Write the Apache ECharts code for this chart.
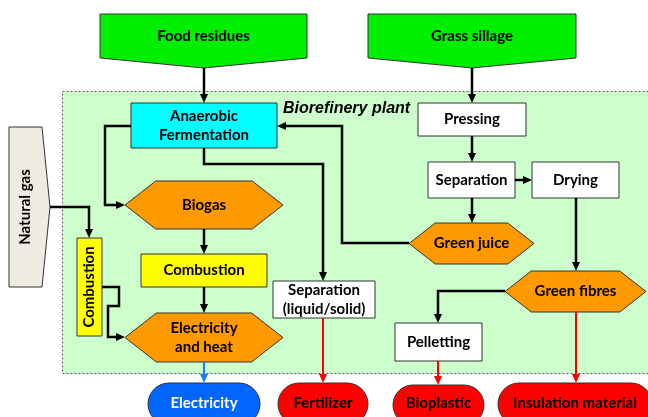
<!DOCTYPE html>
<html>
<head>
<meta charset="utf-8">
<script src="https://cdn.jsdelivr.net/npm/echarts@6/dist/echarts.min.js"></script>
<style>
  html, body { margin: 0; padding: 0; background: #fff; }
  #chart { width: 648px; height: 417px; }
</style>
</head>
<body>
<div id="chart"></div>
<script>
var labels = ['Food residues', 'Grass sillage', 'Natural gas', 'Anaerobic\nFermentation', 'Pressing',
  'Separation', 'Drying', 'Biogas', 'Green juice', 'Combustion', 'Combustion',
  'Separation\n(liquid/solid)', 'Green fibres', 'Electricity\nand heat', 'Pelletting',
  'Electricity', 'Fertilizer', 'Bioplastic', 'Insulation material'];
var kinds = ['down', 'down', 'right', 'rect', 'rect', 'rect', 'rect', 'hex', 'hex', 'rect', 'vrect',
  'rect', 'hex', 'hex', 'rect', 'pill', 'pill', 'pill', 'pill'];
var fills = ['#00ee00', '#00ee00', '#eeebe1', '#00ffff', '#ffffff', '#ffffff', '#ffffff', '#ff9900', '#ff9900',
  '#ffff00', '#ffff00', '#ffffff', '#ff9900', '#ff9900', '#ffffff', '#0066ff', '#ff0000', '#ff0000', '#ff0000'];
var inks = ['#000', '#000', '#000', '#000', '#000', '#000', '#000', '#000', '#000', '#000', '#000',
  '#000', '#000', '#000', '#000', '#ffffff', '#000', '#000', '#000'];
// node boxes in chart units: [left, top, right, bottom]
var boxes = [
  [100, 14, 307, 68], [368, 14, 576, 68], [9, 127, 50, 287], [131, 103, 277, 148], [418, 103, 526, 136],
  [428, 162, 515, 198], [532, 162, 619, 198], [125, 181, 283, 229], [409, 223, 534, 264],
  [141, 254, 267, 287], [77, 238, 102, 336], [273, 281, 375, 318], [505, 271, 646, 312],
  [125, 313, 283, 362], [395, 323, 482, 361], [148, 383, 260, 425], [278, 383, 368, 425],
  [393, 385, 484, 425], [498, 383, 652, 425]
];
var links = [
  [[204, 68], [204, 103]], [[472, 68], [472, 103]], [[472, 136], [472, 162]], [[515, 180], [532, 180]],
  [[472, 198], [472, 223]], [[576, 198], [576, 271]],
  [[131, 126], [105, 126], [105, 205], [125, 205]],
  [[409, 243], [342, 243], [342, 126], [277, 126]],
  [[204, 148], [204, 164], [323, 164], [323, 281]],
  [[50, 207], [89, 207], [89, 238]],
  [[102, 287], [119, 287], [119, 306], [108, 306], [108, 337], [125, 337]],
  [[204, 229], [204, 254]], [[204, 287], [204, 313]],
  [[505, 291], [438, 291], [438, 323]],
  [[204, 362], [204, 383]], [[323, 318], [323, 383]], [[438, 361], [438, 385]], [[576, 312], [576, 383]]
];
var linkColors = ['#000', '#000', '#000', '#000', '#000', '#000', '#000', '#000', '#000', '#000', '#000',
  '#000', '#000', '#000', '#1a7dff', '#ff0000', '#ff0000', '#ff0000'];
var plant = [[62, 91, 660, 373]];
var plantTitle = 'Biorefinery plant';

var chart = echarts.init(document.getElementById('chart'));

function drawPlant(params, api) {
  var p0 = api.coord([plant[0][0], plant[0][1]]);
  var p1 = api.coord([plant[0][2], plant[0][3]]);
  return {
    type: 'group',
    children: [
      {
        type: 'rect',
        shape: { x: p0[0] + 0.5, y: p0[1] + 0.5, width: p1[0] - p0[0], height: p1[1] - p0[1] },
        style: { fill: '#ccffcc', stroke: '#555', lineWidth: 1, lineDash: [2, 2] }
      },
      {
        type: 'text',
        style: {
          text: plantTitle, x: p0[0] + 221, y: p0[1] + 18, align: 'left', verticalAlign: 'middle',
          font: 'italic bold 16px "Liberation Sans", Arial', fill: '#000'
        }
      }
    ]
  };
}

function drawNode(params, api) {
  var i = params.dataIndex;
  var b = boxes[i];
  var p0 = api.coord([b[0], b[1]]);
  var p1 = api.coord([b[2], b[3]]);
  var x0 = p0[0], y0 = p0[1], x1 = p1[0], y1 = p1[1];
  var cx = (x0 + x1) / 2, cy = (y0 + y1) / 2;
  var style = { fill: fills[i], stroke: '#333', lineWidth: 1 };
  var kind = kinds[i];
  var body, d;
  var tx = cx, ty = cy, rot = 0;
  if (kind === 'rect' || kind === 'vrect') {
    body = { type: 'rect', shape: { x: x0, y: y0, width: x1 - x0, height: y1 - y0 }, style: style };
    if (kind === 'vrect') rot = Math.PI / 2;
  } else if (kind === 'pill') {
    body = { type: 'rect', shape: { x: x0, y: y0, width: x1 - x0, height: y1 - y0, r: (y1 - y0) / 2 }, style: style };
    ty = y1 - 22;
  } else if (kind === 'hex') {
    d = (y1 - y0) * 0.64;
    body = { type: 'polygon', shape: { points: [[x0, cy], [x0 + d, y0], [x1 - d, y0], [x1, cy], [x1 - d, y1], [x0 + d, y1]] }, style: style };
  } else if (kind === 'down') {
    body = { type: 'polygon', shape: { points: [[x0, y0], [x1, y0], [x1, y1 - 10], [cx, y1], [x0, y1 - 10]] }, style: style };
    ty = (y0 + y1 - 10) / 2;
  } else {
    body = { type: 'polygon', shape: { points: [[x0, y0], [x1 - 8, y0], [x1, cy], [x1 - 8, y1], [x0, y1]] }, style: style };
    tx = (x0 + x1 - 8) / 2;
    rot = Math.PI / 2;
  }
  return {
    type: 'group',
    children: [
      body,
      {
        type: 'text',
        x: tx, y: ty, rotation: rot,
        style: {
          text: labels[i], x: 0, y: 0, align: 'center', verticalAlign: 'middle',
          font: 'bold 15px Lato', lineHeight: 19, fill: inks[i]
        }
      }
    ]
  };
}

function drawLink(params, api) {
  var i = params.dataIndex;
  var pts = links[i].map(function (p) { return api.coord(p); });
  var n = pts.length;
  var a = pts[n - 2], b = pts[n - 1];
  var dx = b[0] - a[0], dy = b[1] - a[1];
  var len = Math.sqrt(dx * dx + dy * dy);
  var ux = dx / len, uy = dy / len;
  var head = 9, half = 4;
  var base = [b[0] - ux * head, b[1] - uy * head];
  var color = linkColors[i];
  return {
    type: 'group',
    children: [
      {
        type: 'polyline',
        shape: { points: pts.slice(0, n - 1).concat([base]) },
        style: { stroke: color, lineWidth: color === '#000' ? 2.5 : 2, fill: null, lineJoin: 'miter' }
      },
      {
        type: 'polygon',
        shape: { points: [b, [base[0] - uy * half, base[1] + ux * half], [base[0] + uy * half, base[1] - ux * half]] },
        style: { fill: color }
      }
    ]
  };
}

chart.setOption({
  animation: false,
  grid: { left: 0, right: 0, top: 0, bottom: 0, containLabel: false },
  xAxis: { type: 'value', min: 0, max: 648, show: false },
  yAxis: { type: 'value', min: 0, max: 417, inverse: true, show: false },
  series: [
    {
      type: 'custom', silent: true, z: 1, clip: false,
      renderItem: drawPlant,
      data: plant
    },
    {
      type: 'custom', silent: true, z: 2, clip: false,
      renderItem: drawNode,
      data: boxes
    },
    {
      type: 'custom', silent: true, z: 3, clip: false,
      renderItem: drawLink,
      data: links.map(function (l) { return l[l.length - 1]; })
    }
  ]
});
</script>
</body>
</html>
